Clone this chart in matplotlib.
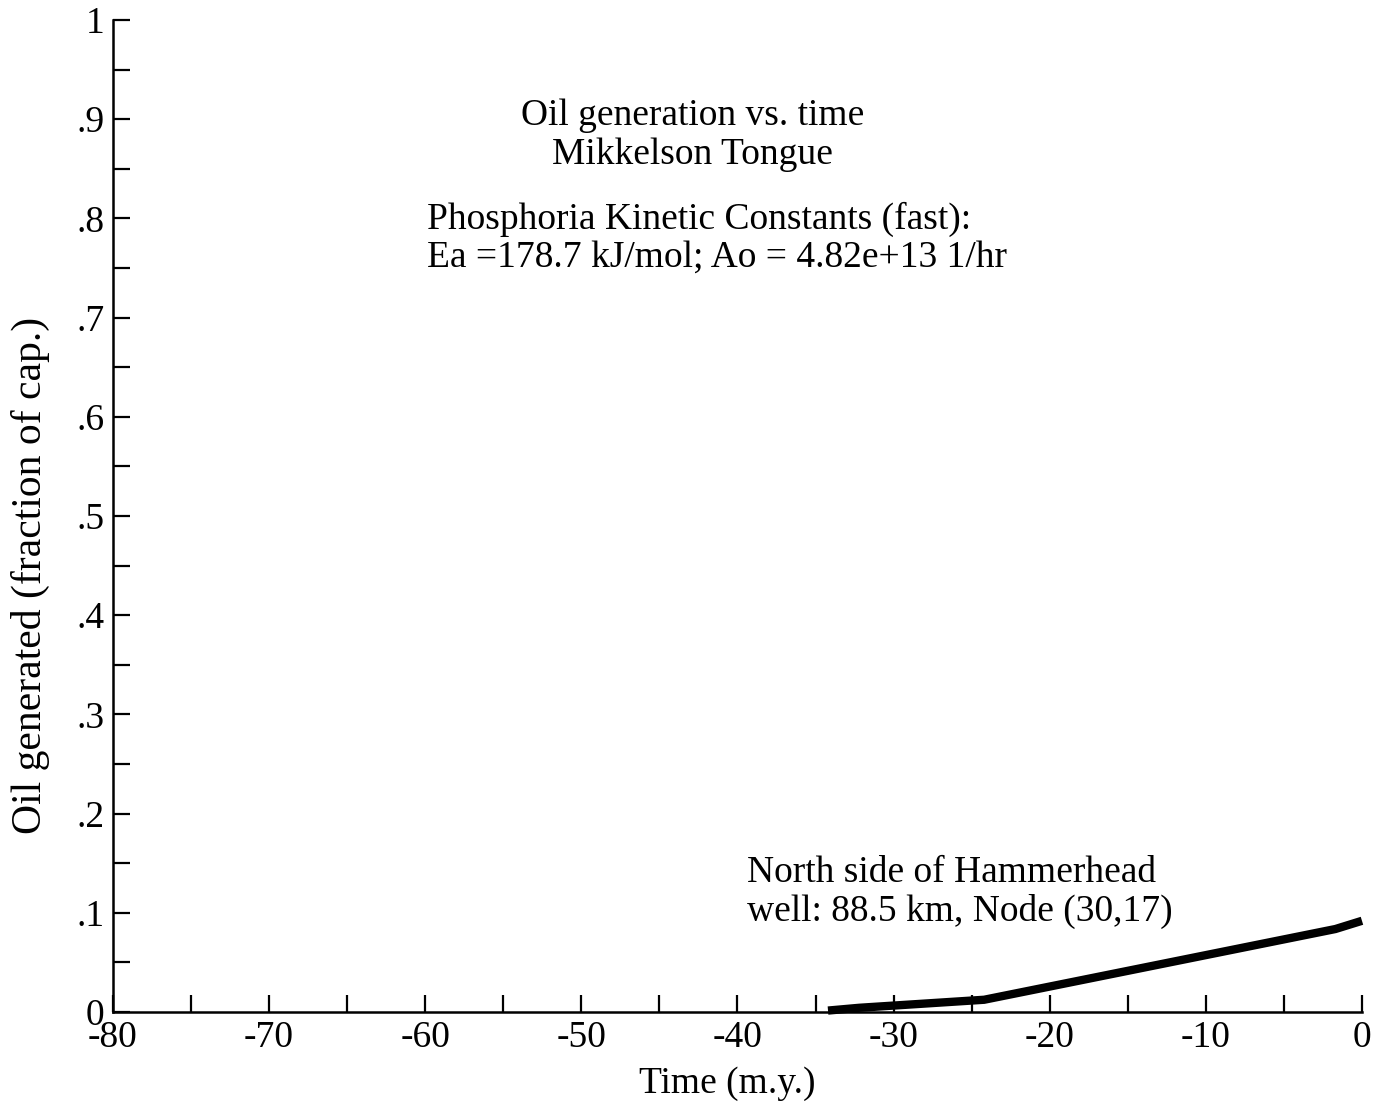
import matplotlib
matplotlib.use("Agg")
import matplotlib.pyplot as plt
from matplotlib.ticker import MultipleLocator, FixedLocator, FixedFormatter

# Data
time_my = [-34.2, -32.2, -24.2, -1.7, 0.0]
oil_frac = [0.0015, 0.0043, 0.0124, 0.0837, 0.092]

x_ticks = [-80, -70, -60, -50, -40, -30, -20, -10, 0]
x_tick_labels = ["-80", "-70", "-60", "-50", "-40", "-30", "-20", "-10", "0"]
y_ticks = [0, 0.1, 0.2, 0.3, 0.4, 0.5, 0.6, 0.7, 0.8, 0.9, 1.0]
y_tick_labels = ["0", ".1", ".2", ".3", ".4", ".5", ".6", ".7", ".8", ".9", "1"]

title_lines = "Oil generation vs. time\nMikkelson Tongue"
kinetic_lines = "Phosphoria Kinetic Constants (fast):\nEa =178.7 kJ/mol; Ao = 4.82e+13 1/hr"
well_lines = "North side of Hammerhead\nwell: 88.5 km, Node (30,17)"

FS = 27

plt.rcParams["font.family"] = ["Liberation Serif", "DejaVu Serif"]
plt.rcParams["font.size"] = FS

fig = plt.figure(figsize=(13.76, 11.13), dpi=100)
ax = fig.add_axes([0.0821, 0.0907, 0.9077, 0.8913])

ax.plot(time_my, oil_frac, color="black", linewidth=6, solid_capstyle="butt",
        solid_joinstyle="miter", clip_on=False, zorder=3)

ax.set_xlim(-80, 0)
ax.set_ylim(0, 1)

for s in ["top", "right"]:
    ax.spines[s].set_visible(False)
for s in ["left", "bottom"]:
    ax.spines[s].set_linewidth(1.8)

ax.xaxis.set_major_locator(FixedLocator(x_ticks))
ax.xaxis.set_major_formatter(FixedFormatter(x_tick_labels))
ax.xaxis.set_minor_locator(MultipleLocator(5))
ax.yaxis.set_major_locator(FixedLocator(y_ticks))
ax.yaxis.set_major_formatter(FixedFormatter(y_tick_labels))
ax.yaxis.set_minor_locator(MultipleLocator(0.05))

ax.tick_params(which="both", direction="in", length=12, width=1.6, color="black")
ax.tick_params(axis="x", which="major", pad=6, labelsize=FS)
ax.tick_params(axis="y", which="major", pad=6, labelsize=FS)

ax.set_xlabel("Time (m.y.)", fontsize=FS, va="center")
ax.xaxis.set_label_coords(0.492, -0.072)
ax.set_ylabel("Oil generated (fraction of cap.)", fontsize=30, va="center")
ax.yaxis.set_label_coords(-0.066, 0.4405)

ax.text(-42.9, 0.884, title_lines, ha="center", va="center", fontsize=FS,
        linespacing=1.15)
ax.text(-59.9, 0.780, kinetic_lines, ha="left", va="center", fontsize=FS,
        linespacing=1.15)
ax.text(-39.4, 0.121, well_lines, ha="left", va="center", fontsize=FS,
        linespacing=1.15)

fig.savefig("out.png", dpi=100, facecolor="white")
